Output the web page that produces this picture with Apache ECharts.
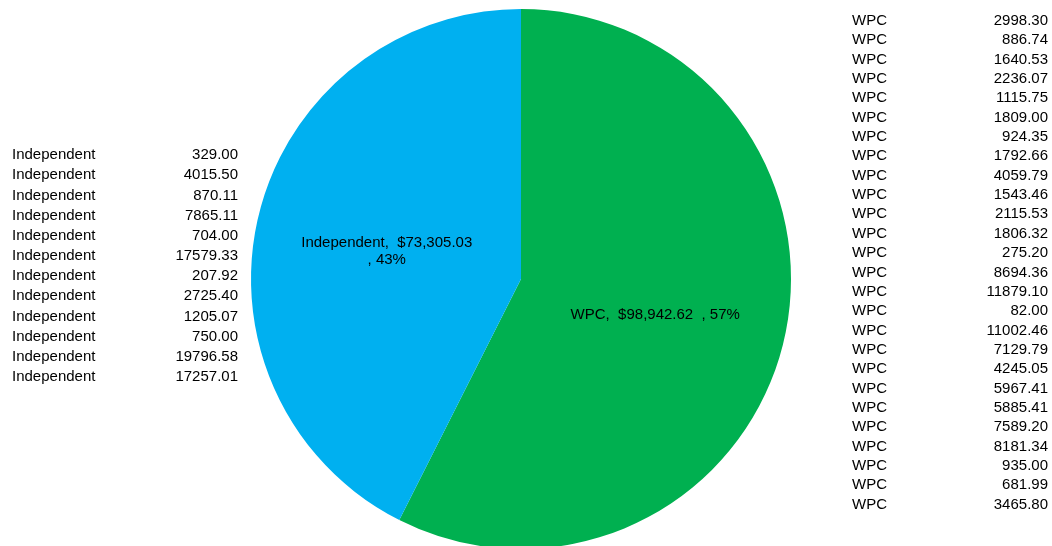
<!DOCTYPE html>
<html>
<head>
<meta charset="utf-8">
<script src="https://cdn.jsdelivr.net/npm/echarts@6/dist/echarts.min.js"></script>
<style>
  html, body { margin: 0; padding: 0; background: #fff; }
  #chart { width: 1052px; height: 546px; }
</style>
</head>
<body>
<div id="chart"></div>
<script>
// slice totals, as printed on the slice labels
const sliceNames = ['WPC', 'Independent'];
const sliceTotals = [98942.62, 73305.03];
const sliceColors = ['#00B050', '#00B0F0'];

// source rows listed beside the pie
const independentRows = [
  329.00, 4015.50, 870.11, 7865.11, 704.00, 17579.33,
  207.92, 2725.40, 1205.07, 750.00, 19796.58, 17257.01
];
const wpcRows = [
  2998.30, 886.74, 1640.53, 2236.07, 1115.75, 1809.00, 924.35,
  1792.66, 4059.79, 1543.46, 2115.53, 1806.32, 275.20, 8694.36,
  11879.10, 82.00, 11002.46, 7129.79, 4245.05, 5967.41, 5885.41,
  7589.20, 8181.34, 935.00, 681.99, 3465.80
];

const FONT = '15px "Liberation Sans", Arial, sans-serif';
const grandTotal = sliceTotals.reduce((a, b) => a + b, 0);

function money(v) {
  return v.toLocaleString('en-US', { minimumFractionDigits: 2, maximumFractionDigits: 2 });
}

// one column of names and one of right aligned values
function tableBlock(name, rows, xName, xValue, yTop, lineHeight) {
  return [
    {
      type: 'text', x: xName, y: yTop,
      style: {
        text: rows.map(() => name).join('\n'),
        font: FONT, fill: '#000', lineHeight: lineHeight,
        align: 'left', verticalAlign: 'top'
      }
    },
    {
      type: 'text', x: xValue, y: yTop,
      style: {
        text: rows.map((v) => v.toFixed(2)).join('\n'),
        font: FONT, fill: '#000', lineHeight: lineHeight,
        align: 'right', verticalAlign: 'top'
      }
    }
  ];
}

const chart = echarts.init(document.getElementById('chart'), null, { renderer: 'canvas' });

chart.setOption({
  animation: false,
  backgroundColor: '#fff',
  series: [{
    type: 'pie',
    center: [521, 279],
    radius: 270,
    startAngle: 90,
    clockwise: true,
    avoidLabelOverlap: false,
    data: sliceNames.map((n, i) => ({
      name: n,
      value: sliceTotals[i],
      itemStyle: { color: sliceColors[i] }
    })),
    label: {
      show: true,
      position: 'inside',
      color: '#000',
      fontFamily: '"Liberation Sans", Arial, sans-serif',
      fontSize: 15,
      lineHeight: 17,
      offset: [0, 4],
      formatter: (p) => {
        const pct = Math.round(p.value / grandTotal * 100);
        const sep = p.name.length > 5 ? '\n' : '  ';
        return `${p.name},  $${money(p.value)}${sep}, ${pct}%`;
      }
    },
    labelLine: { show: false },
    emphasis: { disabled: true }
  }],
  graphic: [
    ...tableBlock('Independent', independentRows, 12, 238, 145, 20.18),
    ...tableBlock('WPC', wpcRows, 852, 1048, 11, 19.36)
  ]
});
</script>
</body>
</html>
